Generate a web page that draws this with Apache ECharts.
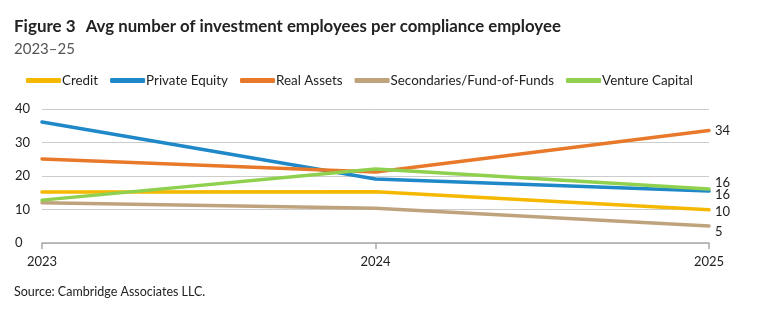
<!DOCTYPE html>
<html>
<head>
<meta charset="utf-8">
<script src="https://cdn.jsdelivr.net/npm/echarts@6/dist/echarts.min.js"></script>
<style>
  html, body { margin: 0; padding: 0; background: #fff; }
  #chart { width: 760px; height: 319px; }
</style>
</head>
<body>
<div id="chart"></div>
<script>
var years = ['2023', '2024', '2025'];
var credit = [15.2, 15.3, 9.9];
var privateEquity = [36.1, 19.1, 15.5];
var realAssets = [25.1, 21.2, 33.6];
var secondaries = [12.0, 10.4, 5.1];
var ventureCapital = [12.8, 22.1, 16.1];
var endLabels = ['10', '16', '34', '5', '16'];

var FONT = 'Lato';
var chart = echarts.init(document.getElementById('chart'));

function line(name, data, color, idx, offset) {
    return {
        name: name,
        type: 'line',
        data: data,
        symbol: 'none',
        lineStyle: { width: 3.5, color: color, cap: 'round' },
        itemStyle: { color: color },
        endLabel: {
            show: true,
            formatter: function () { return endLabels[idx]; },
            color: '#222',
            fontFamily: FONT,
            fontSize: 13,
            distance: 6,
            offset: offset || [0, 0]
        }
    };
}

chart.setOption({
    animation: false,
    title: [
        {
            text: '{b|Figure 3}  {m|Avg number of investment employees per compliance employee}',
            left: 9, top: 13,
            textStyle: {
                rich: {
                    b: { fontFamily: FONT, fontWeight: 'bold', fontSize: 17, color: '#222' },
                    m: { fontFamily: FONT, fontWeight: 'bold', fontSize: 16.8, color: '#222' }
                }
            }
        },
        {
            text: '2023–25',
            left: 9, top: 37,
            textStyle: { fontFamily: FONT, fontWeight: 'normal', fontSize: 15, color: '#555' }
        },
        {
            text: 'Source: Cambridge Associates LLC.',
            left: 9, top: 280,
            textStyle: { fontFamily: FONT, fontWeight: 'normal', fontSize: 12.5, color: '#222' }
        }
    ],
    legend: {
        left: 21, top: 69,
        icon: 'roundRect',
        itemWidth: 35, itemHeight: 5,
        itemGap: 12,
        textStyle: { fontFamily: FONT, fontSize: 13.4, color: '#222', padding: [0, 0, 0, -4] }
    },
    grid: { left: 42, right: 51, top: 109, bottom: 76 },
    xAxis: {
        type: 'category',
        data: years,
        boundaryGap: false,
        axisLine: { lineStyle: { color: '#aaa', width: 1.5 } },
        axisTick: { show: true, length: 6, lineStyle: { color: '#aaa', width: 1.5 } },
        axisLabel: { fontFamily: FONT, fontSize: 13, color: '#222', margin: 12 },
        splitLine: { show: false }
    },
    yAxis: {
        type: 'value',
        min: 0, max: 40, interval: 10,
        axisLine: { show: false },
        axisTick: { show: false },
        axisLabel: { fontFamily: FONT, fontSize: 13, color: '#222', align: 'left', margin: 27 },
        splitLine: { lineStyle: { color: '#ccc', width: 1 } }
    },
    series: [
        line('Credit', credit, '#F5B800', 0, [0, 2]),
        line('Private Equity', privateEquity, '#1E88C8', 1, [0, 4]),
        line('Real Assets', realAssets, '#E8792A', 2),
        line('Secondaries/Fund-of-Funds', secondaries, '#BFA37D', 3, [0, 6]),
        line('Venture Capital', ventureCapital, '#8FD14F', 4, [0, -6])
    ]
});
</script>
</body>
</html>
